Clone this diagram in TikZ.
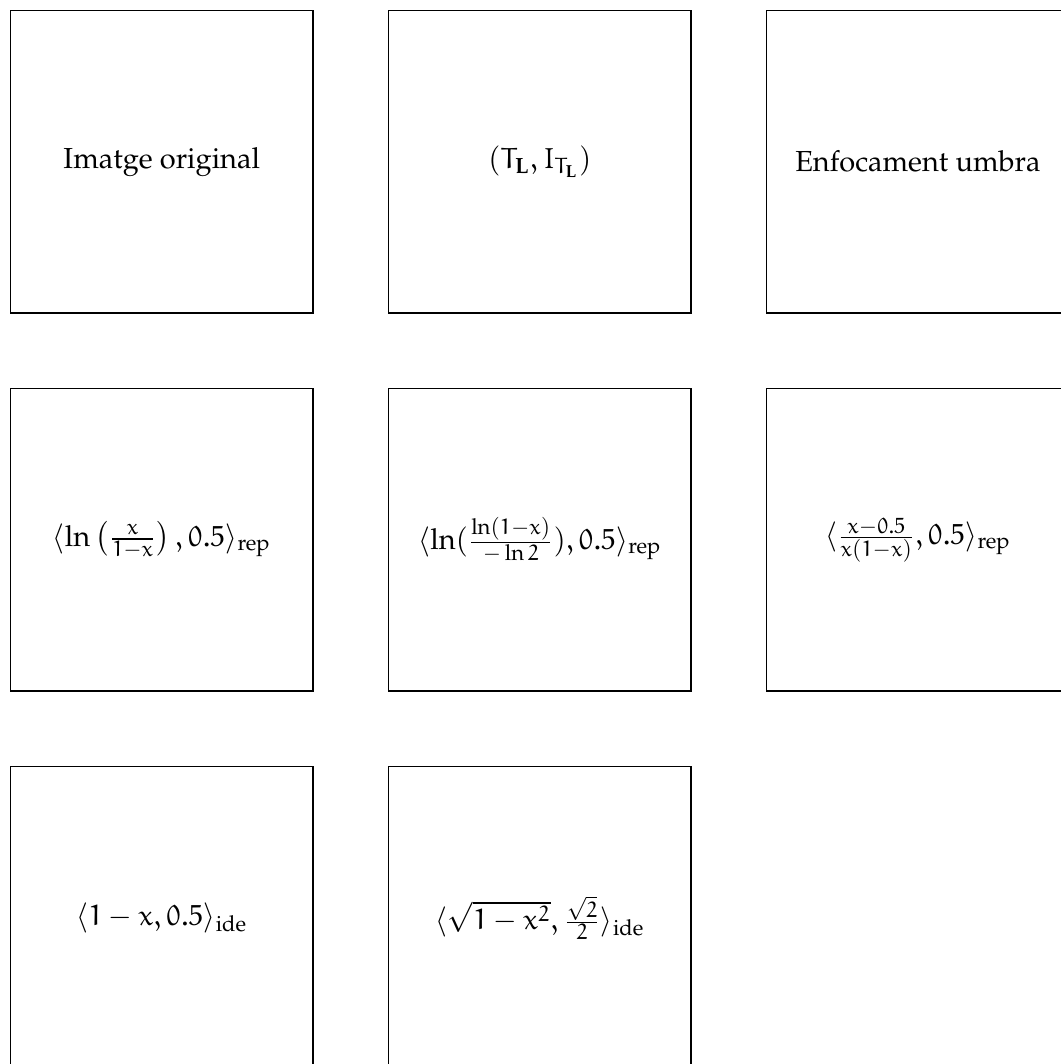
\documentclass[tikz,border=0pt]{standalone}
\usepackage[T1]{fontenc}
\usepackage{mathpazo}
\usepackage{amsmath}
\DeclareSymbolFont{eul}{U}{eur}{m}{n}
\DeclareMathSymbol{x}{\mathalpha}{eul}{`x}
\DeclareMathSymbol{T}{\mathalpha}{eul}{`T}
\DeclareMathSymbol{I}{\mathalpha}{eul}{`I}
\DeclareMathSymbol{0}{\mathalpha}{eul}{`0}
\DeclareMathSymbol{1}{\mathalpha}{eul}{`1}
\DeclareMathSymbol{2}{\mathalpha}{eul}{`2}
\DeclareMathSymbol{5}{\mathalpha}{eul}{`5}
\DeclareMathSymbol{.}{\mathord}{eul}{58}
\DeclareMathSymbol{,}{\mathpunct}{eul}{59}
\begin{document}
\begin{tikzpicture}
\tikzset{
  panel/.style={draw=black, line width=0.5pt, minimum width=4cm, minimum height=4cm, inner sep=0pt, anchor=north west, font=\fontsize{10.9}{13}\selectfont}
}
\useasboundingbox (0,0) rectangle (14.03,-14.07);
\begin{scope}
\clip (0,0) rectangle (14.03,-14.07);
\node[panel] (a) at (0.13,-0.13) {Imatge original};
\node[panel] (b) at (5.13,-0.13) {$(T_{\mathbf{L}}, I_{T_{\mathbf{L}}})$};
\node[panel] (c) at (10.13,-0.13) {Enfocament umbra};
\node[panel] (d) at (0.13,-5.13) {$\langle \ln\left(\frac{x}{1-x}\right), 0.5\rangle_{\mathrm{rep}}$};
\node[panel] (e) at (5.13,-5.13) {$\langle \ln(\frac{\ln(1-x)}{-\ln 2}), 0.5\rangle_{\mathrm{rep}}$};
\node[panel] (f) at (10.13,-5.13) {$\langle \frac{x-0.5}{x(1-x)}, 0.5\rangle_{\mathrm{rep}}$};
\node[panel] (g) at (0.13,-10.13) {$\langle 1-x, 0.5\rangle_{\mathrm{ide}}$};
\node[panel] (h) at (5.13,-10.13) {$\langle \sqrt{1-x^2}, \frac{\sqrt{2}}{2}\rangle_{\mathrm{ide}}$};
\end{scope}
\end{tikzpicture}
\end{document}
